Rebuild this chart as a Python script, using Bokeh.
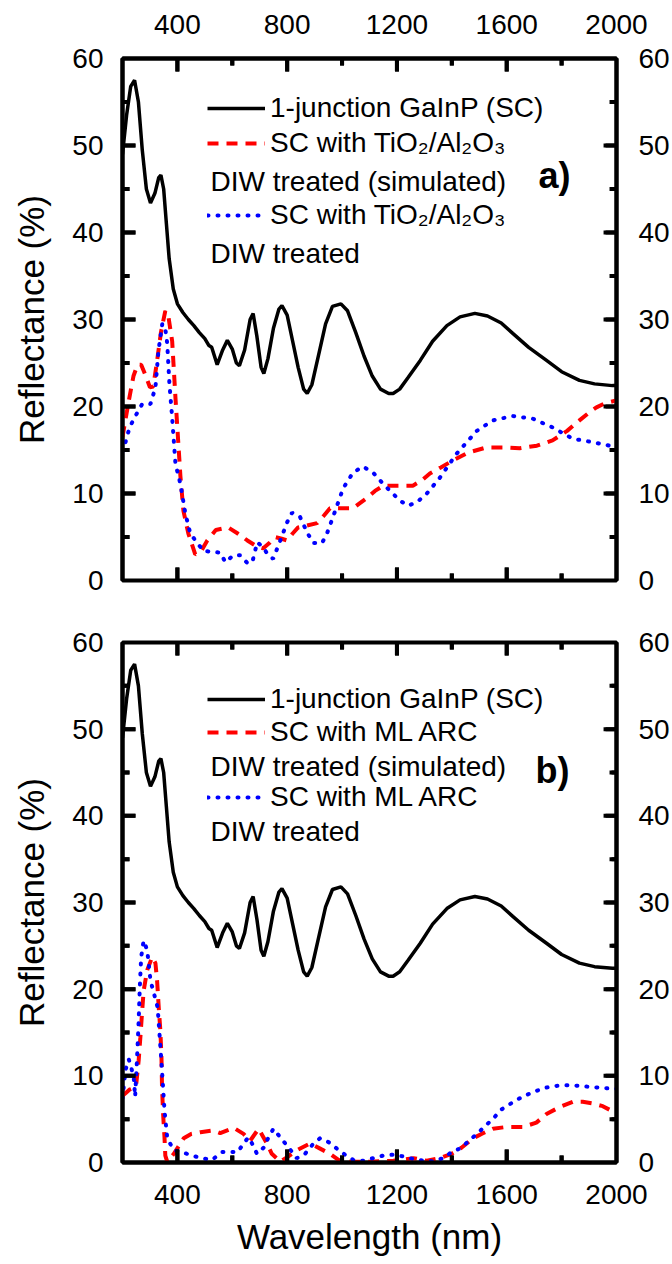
from bokeh.plotting import figure
from bokeh.models import (Range1d, LinearAxis, SingleIntervalTicker, Label, Legend, LegendItem,
                          BoxAnnotation)
from bokeh.layouts import column
from bokeh.embed import file_html
from bokeh.resources import INLINE

# ---------------- data ----------------
wl_bare = [200, 215, 230, 244, 258, 272, 287, 302, 318, 332, 340, 350, 360, 370, 385, 400, 420, 440,
           460, 480, 500, 515, 525, 545, 565, 582, 600, 615, 626, 645, 665, 676, 690, 705, 715, 730,
           750, 770, 781, 800, 820, 840, 860, 873, 890, 915, 940, 965, 996, 1020, 1050, 1080, 1110,
           1140, 1170, 1186, 1210, 1240, 1285, 1330, 1382, 1430, 1484, 1530, 1580, 1622, 1680, 1745,
           1800, 1865, 1920, 1985, 2000]
r_bare = [49.0, 53.5, 56.8, 57.5, 55.0, 49.5, 45.0, 43.4, 44.5, 46.3, 46.6, 45.0, 41.0, 37.0, 33.5,
          31.8, 30.8, 30.0, 29.3, 28.5, 27.8, 27.0, 26.8, 24.8, 26.5, 27.6, 26.6, 25.0, 24.7, 26.5,
          30.0, 30.7, 28.0, 24.5, 23.8, 25.5, 29.0, 31.2, 31.6, 30.5, 27.5, 24.5, 22.0, 21.5, 22.5,
          26.0, 29.5, 31.5, 31.8, 31.0, 28.5, 25.8, 23.5, 22.0, 21.5, 21.5, 22.0, 23.3, 25.3, 27.5,
          29.3, 30.3, 30.7, 30.4, 29.6, 28.4, 26.8, 25.3, 24.0, 23.0, 22.6, 22.4, 22.4]

wl_tio2_sim = [200, 211, 222, 240, 255, 268, 285, 300, 312, 325, 340, 356, 368, 381, 393, 400, 411,
               422, 440, 465, 485, 509, 540, 585, 620, 655, 690, 713, 735, 756, 780, 800, 820, 840,
               870, 909, 935, 956, 1000, 1040, 1065, 1091, 1120, 1150, 1200, 1258, 1290, 1320, 1360,
               1404, 1460, 1527, 1590, 1647, 1710, 1767, 1820, 1865, 1900, 1927, 1960, 2000]
r_tio2_sim = [16.5, 18.5, 20.5, 23.5, 24.8, 24.8, 23.5, 22.2, 22.3, 25.0, 28.5, 31.0, 30.2, 27.5,
              21.0, 17.5, 12.0, 8.0, 5.4, 3.0, 3.3, 4.6, 5.8, 6.1, 5.4, 4.6, 3.9, 3.7, 4.3, 5.0, 4.8,
              4.6, 5.4, 6.1, 6.3, 6.6, 7.5, 8.3, 8.3, 8.3, 8.9, 9.5, 10.3, 10.9, 10.9, 10.9, 11.5,
              12.3, 13.0, 13.8, 14.7, 15.3, 15.3, 15.2, 15.5, 16.1, 17.2, 18.4, 19.3, 19.9, 20.4, 20.7]

wl_tio2_diw = [200, 211, 225, 240, 254, 272, 290, 302, 320, 331, 345, 355, 363, 371, 381, 393, 411,
               429, 447, 473, 495, 525, 556, 575, 604, 629, 655, 673, 691, 713, 731, 749, 775, 800,
               818, 847, 873, 895, 927, 945, 967, 1004, 1040, 1076, 1113, 1156, 1185, 1210, 1240,
               1273, 1309, 1356, 1418, 1491, 1549, 1622, 1695, 1767, 1840, 1913, 1960, 2000]
r_tio2_diw = [14.8, 15.9, 17.5, 18.5, 19.3, 20.3, 20.3, 20.3, 22.2, 26.4, 29.5, 29.2, 27.2, 22.6,
              18.7, 13.4, 11.1, 7.7, 5.4, 4.3, 3.4, 3.3, 3.2, 2.1, 2.9, 2.9, 2.0, 2.1, 4.4, 3.8, 2.9,
              2.5, 4.6, 6.7, 7.8, 7.3, 5.5, 4.3, 4.3, 5.4, 7.3, 10.6, 12.4, 13.1, 12.4, 10.9, 10.0,
              9.2, 8.6, 9.0, 10.0, 11.8, 14.6, 17.2, 18.4, 18.9, 18.6, 17.6, 16.3, 15.9, 15.6, 15.3]

wl_ml_sim = [200, 211, 225, 240, 250, 259, 265, 271, 277, 290, 308, 320, 326, 332, 338, 342, 344,
             348, 353, 356, 363, 387, 423, 450, 484, 532, 556, 605, 641, 665, 696, 726, 744, 775,
             799, 835, 884, 920, 956, 987, 1029, 1100, 1187, 1260, 1309, 1356, 1399, 1435, 1478,
             1508, 1550, 1599, 1660, 1708, 1745, 1793, 1841, 1877, 1914, 1950, 1980, 2000]
r_ml_sim = [7.7, 8.0, 8.4, 8.6, 9.0, 11.8, 14.4, 17.2, 19.8, 22.2, 23.7, 23.0, 21.0, 17.9, 15.2,
            12.1, 8.7, 5.6, 2.9, 0.8, 0.1, 1.0, 2.8, 3.3, 3.5, 3.7, 3.4, 4.0, 3.3, 2.5, 3.9, 2.2,
            1.0, 0.1, 0.6, 1.4, 2.2, 1.6, 1.0, 0.3, 0.1, 0.1, 0.2, 0.5, 0.2, 0.5, 1.0, 1.7, 2.8,
            3.3, 3.9, 4.1, 4.1, 4.6, 5.6, 6.4, 7.0, 7.0, 6.8, 6.5, 6.0, 5.8]

wl_ml_diw = [200, 211, 223, 233, 241, 246, 253, 259, 263, 268, 277, 290, 302, 328, 336, 344, 353,
             363, 387, 417, 453, 490, 526, 563, 590, 620, 641, 659, 672, 690, 714, 732, 750, 775,
             793, 811, 835, 865, 896, 920, 954, 981, 1015, 1041, 1077, 1114, 1150, 1187, 1223, 1260,
             1296, 1332, 1369, 1399, 1435, 1465, 1496, 1520, 1550, 1575, 1605, 1635, 1665, 1702,
             1738, 1768, 1804, 1841, 1877, 1914, 1950, 2000]
r_ml_diw = [7.4, 10.7, 11.9, 10.8, 9.8, 7.6, 12.0, 16.4, 20.2, 23.7, 25.6, 24.5, 21.0, 17.9, 14.3,
            10.6, 6.0, 2.8, 1.4, 1.2, 0.8, 0.5, 0.3, 1.2, 1.2, 1.2, 2.2, 2.9, 2.2, 1.0, 1.7, 2.9,
            3.9, 2.9, 2.2, 1.5, 0.5, 1.0, 2.2, 2.8, 2.3, 1.6, 0.8, 0.3, 0.2, 0.5, 0.8, 0.9, 0.7,
            0.4, 0.2, 0.15, 0.5, 1.2, 1.7, 2.6, 3.4, 4.2, 5.0, 6.0, 6.6, 7.2, 7.7, 8.2, 8.6, 8.8,
            8.9, 8.9, 8.8, 8.7, 8.6, 8.5]

# axis ticks (major labelled, minor unlabelled)
x_major_ticks = [400, 800, 1200, 1600]
x_minor_ticks = [600, 1000, 1400, 1800]
y_major_ticks = [10, 20, 30, 40, 50]
y_minor_ticks = [5, 15, 25, 35, 45, 55]
X_MIN, X_MAX = 200, 2000
Y_MIN, Y_MAX = 0, 60

label_bare = "1-junction GaInP (SC)"
panel_a_label = "SC with TiO\u2082/Al\u2082O\u2083"
panel_b_label = "SC with ML ARC"
label_sim2 = "DIW treated (simulated)"
label_diw2 = "DIW treated"
x_title = "Wavelength (nm)"
y_title = "Reflectance (%)"

FONT = "Liberation Sans"
TICK_FS = "28px"
TITLE_FS = "35px"
LEG_FS = "28px"
FRAME_W = 496
MAJOR_PX, MINOR_PX = 13, 7


def style_axis(ax, xdir, standoff):
    ax.ticker = SingleIntervalTicker(interval=400, num_minor_ticks=2) if xdir else \
        SingleIntervalTicker(interval=10, num_minor_ticks=2)
    ax.axis_line_width = 4
    ax.axis_line_color = "black"
    ax.major_tick_in = 0
    ax.major_tick_out = 0
    ax.minor_tick_in = 0
    ax.minor_tick_out = 0
    ax.major_tick_line_color = None
    ax.minor_tick_line_color = None
    ax.major_label_text_font = FONT
    ax.major_label_text_color = "black"
    ax.major_label_text_font_size = TICK_FS
    ax.major_label_standoff = standoff


def tick_box(p, **kw):
    p.add_layout(BoxAnnotation(fill_alpha=0, line_color="black", line_width=4,
                               line_alpha=1, level="annotation", **kw))


def inner_ticks(p, frame_h):
    # inward tick marks on all four sides of the frame
    dy = (Y_MAX - Y_MIN) / frame_h
    dx = (X_MAX - X_MIN) / FRAME_W
    for ticks, px in ((x_major_ticks, MAJOR_PX), (x_minor_ticks, MINOR_PX)):
        for t in ticks:
            p.line(x=[t, t], y=[Y_MIN, Y_MIN + px * dy], line_width=4, line_color="black")
            p.line(x=[t, t], y=[Y_MAX, Y_MAX - px * dy], line_width=4, line_color="black")
            tick_box(p, left=t, right=t, left_units="data", right_units="data",
                     bottom=0, top=px, bottom_units="screen", top_units="screen")
            tick_box(p, left=t, right=t, left_units="data", right_units="data",
                     bottom=frame_h - px, top=frame_h, bottom_units="screen",
                     top_units="screen")
    for ticks, px in ((y_major_ticks, MAJOR_PX), (y_minor_ticks, MINOR_PX)):
        for t in ticks:
            p.line(x=[X_MIN, X_MIN + px * dx], y=[t, t], line_width=4, line_color="black")
            p.line(x=[X_MAX, X_MAX - px * dx], y=[t, t], line_width=4, line_color="black")
            tick_box(p, bottom=t, top=t, bottom_units="data", top_units="data",
                     left=0, right=px, left_units="screen", right_units="screen")
            tick_box(p, bottom=t, top=t, bottom_units="data", top_units="data",
                     left=FRAME_W - px, right=FRAME_W, left_units="screen",
                     right_units="screen")


def make_panel(height, top, bottom, sim_wl, sim_r, diw_wl, diw_r, ml_label, tag,
               is_top, rows):
    p = figure(width=672, height=height, x_range=Range1d(X_MIN, X_MAX),
               y_range=Range1d(Y_MIN, Y_MAX),
               output_backend="svg", toolbar_location=None,
               x_axis_location="above" if is_top else "below",
               min_border_left=122, min_border_right=54, min_border_top=top,
               min_border_bottom=bottom)
    p.xgrid.grid_line_color = None
    p.ygrid.grid_line_color = None
    p.outline_line_color = "black"
    p.outline_line_width = 4
    p.background_fill_color = "white"
    p.border_fill_color = "white"

    xax = p.xaxis[0]
    style_axis(xax, True, 25 if is_top else 22)
    yax = p.yaxis[0]
    style_axis(yax, False, 19)
    yax.axis_label = y_title
    yax.axis_label_text_font = FONT
    yax.axis_label_text_font_size = TITLE_FS
    yax.axis_label_text_font_style = "normal"
    yax.axis_label_text_color = "black"
    yax.axis_label_standoff = 18
    right_ax = LinearAxis()
    style_axis(right_ax, False, 22)
    p.add_layout(right_ax, "right")

    if not is_top:
        xax.axis_label = x_title
        xax.axis_label_text_font = FONT
        xax.axis_label_text_font_size = TITLE_FS
        xax.axis_label_text_font_style = "normal"
        xax.axis_label_text_color = "black"
        xax.axis_label_standoff = 10

    fh = height - top - bottom
    r_b = p.line(wl_bare, r_bare, line_color="black", line_width=3.5)
    r_s = p.line(sim_wl, sim_r, line_color="#ff0000", line_width=4, line_dash="11 8")
    r_d = p.line(diw_wl, diw_r, line_color="#0000ff", line_width=4, line_dash="1 9",
                 line_cap="round")
    inner_ticks(p, fh)

    y1, y2, y3, y4, y5, tag_x, tag_y = rows

    def legend(items, loc_y, spacing):
        lg = Legend(items=items, location=(85, loc_y), orientation="vertical",
                    label_text_font=FONT, label_text_font_size=LEG_FS,
                    label_text_color="black", glyph_width=58, glyph_height=20,
                    label_height=20, label_standoff=5, padding=0, margin=0,
                    spacing=spacing, border_line_color=None, background_fill_alpha=0)
        p.add_layout(lg, "center")

    legend([LegendItem(label=label_bare, renderers=[r_b]),
            LegendItem(label=ml_label, renderers=[r_s])], fh - y2 - 16, y2 - y1 - 32)
    legend([LegendItem(label=ml_label, renderers=[r_d])], fh - y4 - 16, 0)

    for txt, yy in ((label_sim2, y3), (label_diw2, y5)):
        p.add_layout(Label(x=88, y=fh - yy, x_units="screen", y_units="screen", text=txt,
                           text_font=FONT, text_font_size=LEG_FS, text_color="black",
                           text_baseline="middle", text_align="left"))

    p.add_layout(Label(x=tag_x, y=fh - tag_y, x_units="screen", y_units="screen", text=tag,
                       text_font=FONT, text_font_size="36px", text_font_style="bold",
                       text_color="black", text_baseline="middle", text_align="left"))
    return p


p1 = make_panel(600, 58, 20, wl_tio2_sim, r_tio2_sim, wl_tio2_diw, r_tio2_diw, panel_a_label,
                "a)", True, (50, 85, 123, 157, 195, 416, 117))
p2 = make_panel(664, 42, 102, wl_ml_sim, r_ml_sim, wl_ml_diw, r_ml_diw, panel_b_label,
                "b)", False, (57, 90, 124, 155, 189, 413, 128))

layout = column(p1, p2, spacing=0)
open("out.html", "w").write(file_html(layout, INLINE))
